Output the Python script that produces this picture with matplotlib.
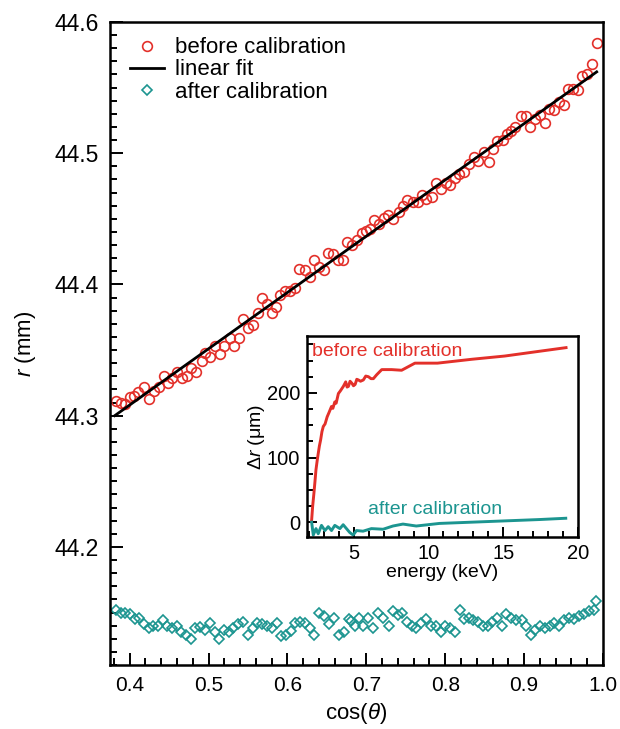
import matplotlib
matplotlib.use('Agg')
import matplotlib.pyplot as plt
from matplotlib.ticker import MultipleLocator

plt.rcParams['font.family'] = ['Liberation Sans', 'DejaVu Sans']
plt.rcParams['mathtext.fontset'] = 'custom'
plt.rcParams['mathtext.rm'] = 'Liberation Sans'
plt.rcParams['mathtext.it'] = 'Liberation Sans:italic'

RED = '#e3302a'
TEAL = '#1c9590'

# ---- main panel data ----
before_x = [0.383, 0.389, 0.3945, 0.400, 0.405, 0.411, 0.418, 0.424, 0.431, 0.437,
            0.443, 0.448, 0.454, 0.460, 0.466, 0.472, 0.478, 0.484, 0.491, 0.496,
            0.502, 0.508, 0.515, 0.520, 0.527, 0.532, 0.538, 0.543, 0.550, 0.556,
            0.562, 0.568, 0.574, 0.580, 0.586, 0.591, 0.597, 0.603, 0.610, 0.615,
            0.622, 0.628, 0.634, 0.640, 0.646, 0.652, 0.658, 0.664, 0.670, 0.676,
            0.682, 0.688, 0.694, 0.700, 0.705, 0.710, 0.716, 0.722, 0.728, 0.734,
            0.741, 0.747, 0.752, 0.759, 0.765, 0.770, 0.776, 0.783, 0.788, 0.795,
            0.801, 0.806, 0.812, 0.818, 0.824, 0.830, 0.836, 0.842, 0.849, 0.855,
            0.860, 0.866, 0.873, 0.878, 0.884, 0.889, 0.896, 0.902, 0.908, 0.914,
            0.920, 0.926, 0.932, 0.938, 0.944, 0.950, 0.956, 0.962, 0.968, 0.974,
            0.980, 0.986, 0.992]
before_y = [44.311, 44.310, 44.309, 44.314, 44.315, 44.318, 44.322, 44.313, 44.319, 44.322,
            44.330, 44.325, 44.329, 44.333, 44.329, 44.330, 44.336, 44.333, 44.342, 44.348,
            44.345, 44.353, 44.347, 44.353, 44.359, 44.353, 44.359, 44.374, 44.367, 44.369,
            44.378, 44.390, 44.385, 44.378, 44.383, 44.392, 44.395, 44.395, 44.397, 44.412,
            44.411, 44.406, 44.419, 44.413, 44.411, 44.424, 44.423, 44.419, 44.419, 44.432,
            44.430, 44.434, 44.439, 44.441, 44.442, 44.449, 44.446, 44.451, 44.453, 44.450,
            44.455, 44.460, 44.464, 44.463, 44.463, 44.468, 44.465, 44.467, 44.477, 44.473,
            44.477, 44.476, 44.481, 44.484, 44.486, 44.492, 44.497, 44.494, 44.501, 44.493,
            44.503, 44.509, 44.510, 44.515, 44.517, 44.520, 44.528, 44.528, 44.520, 44.526,
            44.529, 44.523, 44.534, 44.533, 44.539, 44.537, 44.549, 44.549, 44.548, 44.559,
            44.560, 44.568, 44.584]

fit_x = [0.381, 0.992]
fit_y = [44.300, 44.562]

after_x = [0.383, 0.3886, 0.3945, 0.400, 0.4063, 0.4118, 0.4177, 0.424, 0.4295, 0.4359,
           0.4422, 0.4477, 0.454, 0.4595, 0.4654, 0.4717, 0.4781, 0.4831, 0.489, 0.4949,
           0.5013, 0.5076, 0.5135, 0.5194, 0.5253, 0.5312, 0.5371, 0.543, 0.5498, 0.5557,
           0.5616, 0.5675, 0.5743, 0.5802, 0.5861, 0.592, 0.5983, 0.6046, 0.6101, 0.6165,
           0.6224, 0.6287, 0.6342, 0.6405, 0.6468, 0.6532, 0.6586, 0.665, 0.6713, 0.6776,
           0.6806, 0.6861, 0.6911, 0.6962, 0.7017, 0.708, 0.7143, 0.7207, 0.7283, 0.7342,
           0.7397, 0.7452, 0.7511, 0.7578, 0.7629, 0.7692, 0.7755, 0.7819, 0.7882, 0.7945,
           0.800, 0.8059, 0.8127, 0.8186, 0.8241, 0.8295, 0.8354, 0.8409, 0.8473, 0.8536,
           0.8599, 0.8662, 0.8717, 0.8768, 0.8831, 0.8895, 0.897, 0.9021, 0.9084, 0.9139,
           0.9198, 0.9266, 0.9325, 0.938, 0.9443, 0.9506, 0.957, 0.9633, 0.9696, 0.9759,
           0.9823, 0.9886, 0.9916]
after_y = [44.152, 44.150, 44.150, 44.149, 44.145, 44.146, 44.141, 44.138, 44.140, 44.140,
           44.144, 44.140, 44.138, 44.140, 44.135, 44.133, 44.130, 44.138, 44.139, 44.137,
           44.142, 44.135, 44.130, 44.137, 44.135, 44.138, 44.141, 44.143, 44.133, 44.138,
           44.142, 44.141, 44.140, 44.138, 44.142, 44.132, 44.133, 44.136, 44.142, 44.143,
           44.142, 44.138, 44.133, 44.150, 44.147, 44.141, 44.146, 44.133, 44.135, 44.145,
           44.1435, 44.140, 44.146, 44.140, 44.146, 44.138, 44.150, 44.146, 44.140, 44.151,
           44.148, 44.150, 44.143, 44.140, 44.138, 44.142, 44.145, 44.140, 44.140, 44.135,
           44.140, 44.138, 44.135, 44.152, 44.145, 44.146, 44.144, 44.143, 44.140, 44.140,
           44.143, 44.146, 44.140, 44.149, 44.146, 44.144, 44.144, 44.140, 44.133, 44.137,
           44.140, 44.138, 44.140, 44.142, 44.140, 44.144, 44.146, 44.145, 44.147, 44.149,
           44.151, 44.152, 44.159]

x_ticks = [0.4, 0.5, 0.6, 0.7, 0.8, 0.9, 1.0]
y_ticks = [44.2, 44.3, 44.4, 44.5, 44.6]

# ---- inset data ----
red_e = [2.18, 2.25, 2.33, 2.40, 2.47, 2.55, 2.62, 2.70, 2.78, 2.87, 2.96, 3.08, 3.22, 3.35,
         3.51, 3.60, 3.73, 3.82, 3.97, 4.10, 4.30, 4.46, 4.55, 4.64, 4.75, 4.87, 4.98, 5.09,
         5.20, 5.31, 5.45, 5.64, 5.80, 5.98, 6.15, 6.31, 6.53, 6.87, 7.53, 8.20, 9.09, 10.6,
         12.9, 15.1, 17.3, 19.2]
red_dr = [3, 25, 44, 62, 81, 95, 106, 118, 127, 140, 148, 152, 163, 170,
          179, 176, 186, 184, 199, 203, 210, 217, 209, 210, 218, 215, 211, 213,
          221, 220, 218, 220, 226, 225, 222, 222, 228, 236, 236, 235, 246, 246,
          252, 257, 264, 270]
teal_e = [2.18, 2.29, 2.47, 2.62, 2.84, 3.07, 3.29, 3.51, 3.73, 4.07, 4.29, 4.51, 4.73,
          4.96, 5.18, 5.62, 6.18, 6.96, 7.62, 8.29, 9.18, 10.73, 12.96, 15.18, 17.4, 19.18]
teal_dr = [0, -20, -10, -18, -5, -13, -7, -13, -5, -10, -4, -10, -16,
           -20, -13, -14, -10, -11, -6, -3, -6, -2, 0, 2, 4, 6]

fig = plt.figure(figsize=(6.2, 7.29), dpi=100)
W, H = 620.0, 729.0
ax = fig.add_axes([110 / W, 1 - 665 / H, (603 - 110) / W, (665 - 22) / H])

ax.plot(before_x, before_y, 'o', mfc='none', mec=RED, ms=7, mew=1.2, label='before calibration')
ax.plot(fit_x, fit_y, '-', color='black', lw=2.0, label='linear fit')
ax.plot(after_x, after_y, 'D', mfc='none', mec=TEAL, ms=5.3, mew=1.2, label='after calibration')

ax.set_xlim(0.375, 1.0)
ax.set_ylim(44.11, 44.6)
ax.set_xticks(x_ticks)
ax.set_xticklabels([f'{v:.1f}' for v in x_ticks])
ax.set_yticks(y_ticks)
ax.set_yticklabels([f'{v:.1f}' for v in y_ticks])
ax.xaxis.set_minor_locator(MultipleLocator(0.02))
ax.yaxis.set_minor_locator(MultipleLocator(0.01))
ax.tick_params(which='both', direction='in', top=False, right=False, width=1.4)
ax.tick_params(which='major', length=9)
ax.tick_params(which='minor', length=5)
ax.tick_params(axis='x', labelsize=15, pad=8)
ax.tick_params(axis='y', labelsize=16.5, pad=8)
for s in ax.spines.values():
    s.set_linewidth(1.8)

ax.set_xlabel(r'cos($\theta$)', fontsize=16, labelpad=4)
ax.set_ylabel(r'$r$ (mm)', fontsize=16, labelpad=12)

ax.legend(loc='upper left', bbox_to_anchor=(0.022, 0.99), borderaxespad=0, frameon=False,
          fontsize=16, handlelength=1.55, handletextpad=0.5, labelspacing=0.05)

# ---- inset ----
ins = fig.add_axes([307 / W, 1 - 537 / H, (578 - 307) / W, (537 - 336) / H])
ins.plot(red_e, red_dr, color=RED, lw=2.1)
ins.plot(teal_e, teal_dr, color=TEAL, lw=2.1)
ins.set_xlim(1.87, 20)
ins.set_ylim(-23, 288)
ins.set_xticks([5, 10, 15, 20])
ins.set_yticks([0, 100, 200])
ins.xaxis.set_minor_locator(MultipleLocator(1))
ins.yaxis.set_minor_locator(MultipleLocator(25))
ins.tick_params(which='both', direction='in', top=False, right=False, width=1.4, labelsize=14.5)
ins.tick_params(which='major', length=7, pad=5)
ins.tick_params(which='minor', length=4)
for s in ins.spines.values():
    s.set_linewidth(1.8)
ins.set_xlabel('energy (keV)', fontsize=14, labelpad=1)
ins.set_ylabel('Δ$r$ (μm)', fontsize=14, labelpad=0)
ins.text(2.2, 264, 'before calibration', color=RED, fontsize=14, va='center', ha='left')
ins.text(5.93, 19, 'after calibration', color=TEAL, fontsize=14, va='center', ha='left')

fig.savefig('out.png', dpi=100)
